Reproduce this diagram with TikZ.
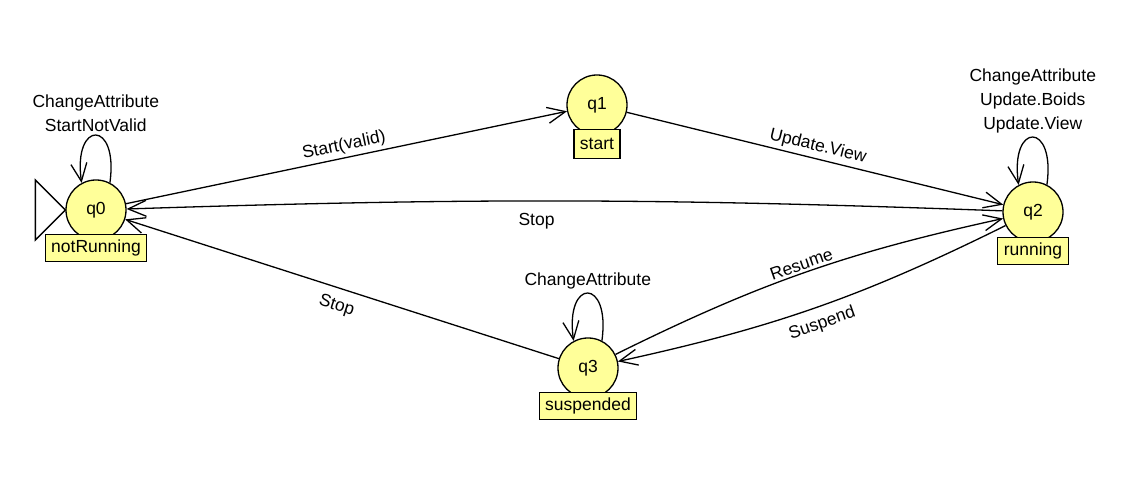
\documentclass[tikz,border=0pt]{standalone}
\usepackage{fontspec}
\setmainfont{Liberation Sans}
\usepackage{tikz}
\usetikzlibrary{arrows.meta,positioning}
\definecolor{stateyellow}{RGB}{255,255,153}

\begin{document}
\begin{tikzpicture}[x=1pt, y=1pt, line width=1.3pt, >={Straight Barb[length=18pt,width=16pt]}, every node/.style={font=\fontsize{17.5}{24}\selectfont}, state node/.style={circle,draw,fill=stateyellow,minimum size=60pt,inner sep=0pt}, name box/.style={draw,fill=stateyellow,inner xsep=6pt,inner ysep=0pt,minimum height=27pt}]
\useasboundingbox (0,0) rectangle (1129,489);
\begin{scope}
\node[state node] (q0) at (96,279) {q0};
\node[state node] (q1) at (597,384) {q1};
\node[state node] (q2) at (1033,277) {q2};
\node[state node] (q3) at (588,121) {q3};
\node[name box, below=-7pt of q0] (q0box) {notRunning};
\node[name box, below=-7pt of q1, minimum height=29pt] (q1box) {start};
\node[name box, below=-6pt of q2] (q2box) {running};
\node[name box, below=-7pt of q3] (q3box) {suspended};
\end{scope}
% initial state marker
\draw (q0.west) -- ++(-30,30) -- ++(0,-60) -- cycle;
\begin{scope}[->]
\draw (q0.63) .. controls +(82:64) and +(98:64) .. node[above,align=center]{ChangeAttribute\\StartNotValid} (q0.118);
\draw (q2.63) .. controls +(82:64) and +(98:64) .. node[above,align=center]{ChangeAttribute\\Update.Boids\\Update.View} (q2.118);
\draw (q3.63) .. controls +(82:64) and +(98:64) .. node[above]{ChangeAttribute} (q3.118);
\draw (q0) edge node[above,sloped]{Start(valid)} (q1);
\draw (q1) edge node[above,sloped]{Update.View} (q2);
\draw (q2) edge[bend right=2] node[below=8pt,pos=0.535]{Stop} (q0);
\draw (q3) edge node[below=6pt,sloped]{Stop} (q0);
\draw (q3) edge[bend left=7] node[above=-1pt,sloped]{Resume} (q2);
\draw (q2) edge[bend left=7] node[below=5pt,sloped]{Suspend} (q3);
\end{scope}
\end{tikzpicture}
\end{document}
